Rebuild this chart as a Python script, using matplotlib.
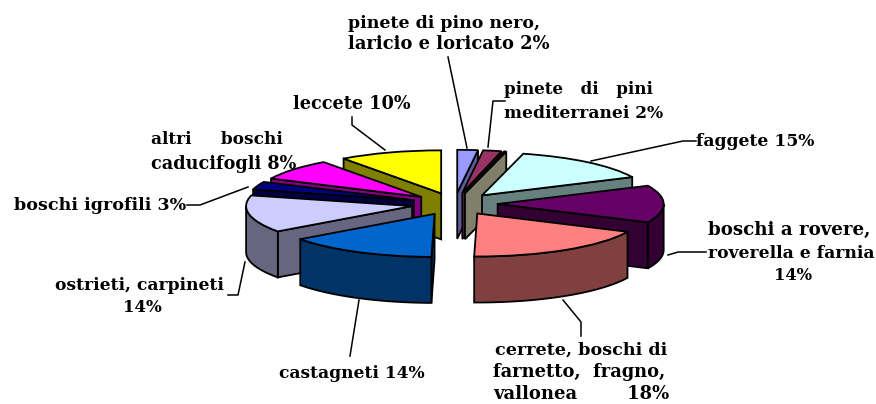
import numpy as np
import matplotlib
matplotlib.use("Agg")
import matplotlib.pyplot as plt
from matplotlib.patches import Polygon

# fette in senso orario da ore 12 (la terza e' una fettina senza etichetta)
categorie = ["pino nero", "pini mediterranei", "", "faggete", "rovere", "cerrete",
             "castagneti", "ostrieti", "igrofili", "altri caducifogli", "leccete"]
valori = [2, 1.8, 0.2, 14, 14, 18.3, 14.7, 14, 3, 8, 10]
colori = ["#9999FF", "#993366", "#FFFFCC", "#CCFFFF", "#660066", "#FF8080",
          "#0066CC", "#CCCCFF", "#000080", "#FF00FF", "#FFFF00"]
colori_lato = ["#5C5C99", "#5C1F3D", "#80806A", "#668080", "#330033", "#804040",
               "#003366", "#666680", "#000040", "#800080", "#808000"]
# ordine di disegno, da dietro verso davanti
ordine = [0, 1, 2, 10, 9, 8, 3, 4, 7, 6, 5]

# righe di testo: testo, x sinistra, x destra, y centro (pixel)
righe = [
    ("pinete di pino nero,", 348, 540, 23),
    ("laricio e loricato 2%", 348, 548, 44),
    ("pinete   di   pini", 504, 652, 90),
    ("mediterranei 2%", 504, 662, 114),
    ("faggete 15%", 696, 814, 142),
    ("boschi a rovere,", 708, 870, 230),
    ("roverella e farnia", 708, 873, 253),
    ("14%", 774, 812, 276),
    ("cerrete, boschi di", 495, 666, 350),
    ("farnetto,  fragno,", 493, 665, 372),
    ("vallonea        18%", 493, 668, 394),
    ("castagneti 14%", 279, 424, 374),
    ("ostrieti, carpineti", 55, 223, 285),
    ("14%", 123, 162, 308),
    ("boschi igrofili 3%", 14, 185, 205),
    ("altri     boschi", 151, 282, 140),
    ("caducifogli 8%", 151, 295, 164),
    ("leccete 10%", 293, 410, 104),
]

# linee di richiamo (pixel)
richiami = [
    [(448, 57), (467, 148)],
    [(505, 101), (493, 101), (488, 147)],
    [(696, 141), (683, 141), (591, 161)],
    [(706, 252), (678, 252), (668, 255)],
    [(581, 336), (581, 322), (563, 300)],
    [(350, 356), (359, 300)],
    [(228, 295), (238, 295), (245, 262)],
    [(187, 205), (200, 205), (248, 187)],
    [(352, 117), (352, 125), (385, 150)],
]

W, H = 876, 404
cx, cy = 454.5, 204
rx, ry = 166.0, 43.0
spessore = 1.07

fig = plt.figure(figsize=(W / 100, H / 100), dpi=100)
ax = fig.add_axes([0, 0, 1, 1])
wedges, _ = ax.pie(valori, colors=colori, explode=[0.26] * len(valori), startangle=90,
                   counterclock=False, wedgeprops={"edgecolor": "black", "linewidth": 1.3})
ax.set_aspect("auto")
ax.set_xlim(-cx / rx, (W - cx) / rx)
ax.set_ylim((cy - H) / ry, cy / ry)


def lato(punti):
    # estrude verso il basso una spezzata del bordo
    punti = np.array(punti)
    sotto = punti[::-1] - [0, spessore]
    return np.vstack([punti, sotto])


for z, i in enumerate(ordine):
    w = wedges[i]
    c = np.array(w.center)
    z0 = z * 10
    facce = []
    t1, t2 = np.radians(w.theta1), np.radians(w.theta2)
    if np.cos(t1) > 0:
        facce.append([c, c + [np.cos(t1), np.sin(t1)]])
    if np.cos(t2) < 0:
        facce.append([c, c + [np.cos(t2), np.sin(t2)]])
    # parete esterna, solo dove guarda verso chi osserva
    a = max(w.theta1, -180)
    b = min(w.theta2, 0)
    if b > a:
        t = np.radians(np.linspace(a, b, 40))
        facce.append(c + np.column_stack([np.cos(t), np.sin(t)]))
    for f in facce:
        ax.add_patch(Polygon(lato(f), closed=True, facecolor=colori_lato[i],
                             edgecolor="black", linewidth=1.3, zorder=z0 + 1))
    w.set_zorder(z0 + 5)

# testi e richiami in coordinate pixel
ann = fig.add_axes([0, 0, 1, 1], facecolor="none")
ann.set_xlim(0, W)
ann.set_ylim(H, 0)
ann.axis("off")

for r in richiami:
    xs, ys = zip(*r)
    ann.plot(xs, ys, color="black", linewidth=1.1, zorder=200)

renderer = fig.canvas.get_renderer()
for testo, x0, x1, y in righe:
    t = ann.text(x0, y, testo, family="DejaVu Serif", weight="bold", fontsize=11,
                 ha="left", va="center", color="black")
    larghezza = t.get_window_extent(renderer).width
    t.set_fontsize(11 * (x1 - x0) / larghezza)

fig.savefig("out.png", dpi=100, facecolor="white")
